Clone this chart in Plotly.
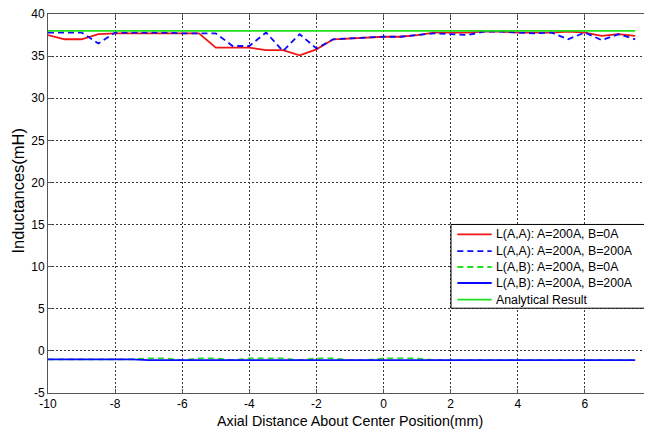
import plotly.graph_objects as go

x = [-10, -9.5, -9, -8.5, -8, -7.5, -7, -6.5, -6, -5.5, -5, -4.5, -4, -3.5, -3, -2.5, -2, -1.5,
     -1, -0.5, 0, 0.5, 1, 1.5, 2, 2.5, 3, 3.5, 4, 4.5, 5, 5.5, 6, 6.5, 7, 7.5]

laa_b0 = [37.5, 37.0, 37.0, 37.6, 37.7, 37.7, 37.7, 37.7, 37.7, 37.7, 36.0, 36.0, 36.0, 35.7, 35.7, 35.1, 35.8, 37.0,
          37.1, 37.2, 37.3, 37.3, 37.5, 37.8, 37.8, 37.8, 37.9, 37.9, 37.8, 37.8, 37.8, 37.9, 37.8, 37.4, 37.6, 37.4]
laa_b200 = [37.8, 37.8, 37.8, 36.5, 37.8, 37.8, 37.8, 37.8, 37.7, 37.7, 37.7, 36.2, 36.2, 37.8, 35.6, 37.6, 35.9, 37.0,
            37.1, 37.2, 37.3, 37.3, 37.5, 37.7, 37.6, 37.5, 37.9, 37.9, 37.8, 37.7, 37.8, 37.0, 37.8, 36.9, 37.6, 37.0]
lab_b0 = [-1.0, -1.0, -1.0, -1.0, -1.0, -1.0, -0.9, -0.9, -1.1, -0.9, -0.9, -1.1, -0.9, -0.9, -0.9, -1.1, -0.9, -0.9,
          -1.1, -1.1, -0.9, -0.9, -0.9, -1.1, -1.1, -1.1, -1.1, -1.1, -1.1, -1.1, -1.1, -1.1, -1.1, -1.1, -1.1, -1.1]
lab_b200 = [-1.0, -1.0, -1.0, -1.0, -1.0, -1.0, -1.1, -1.1, -1.1, -1.1, -1.1, -1.1, -1.1, -1.1, -1.1, -1.1, -1.1, -1.1,
            -1.1, -1.1, -1.1, -1.1, -1.1, -1.1, -1.1, -1.1, -1.1, -1.1, -1.1, -1.1, -1.1, -1.1, -1.1, -1.1, -1.1, -1.1]
analytical = [38.0] * len(x)

series_names = ["L(A,A): A=200A, B=0A", "L(A,A): A=200A, B=200A", "L(A,B): A=200A, B=0A",
                "L(A,B): A=200A, B=200A", "Analytical Result"]
series_values = [laa_b0, laa_b200, lab_b0, lab_b200, analytical]

xticks = [-10, -8, -6, -4, -2, 0, 2, 4, 6, 8]
yticks = [-5, 0, 5, 10, 15, 20, 25, 30, 35, 40]

RED = "#f01414"
BLUE = "#0a0aff"
GREEN = "#1ee01e"
DASH = "6px,4px"
styles = [
    dict(color=RED, width=1.8, dash="solid"),
    dict(color=BLUE, width=1.8, dash=DASH),
    dict(color=GREEN, width=1.8, dash=DASH),
    dict(color=BLUE, width=1.8, dash="solid"),
    dict(color=GREEN, width=1.8, dash="solid"),
]

fig = go.Figure()
for name, vals, st in zip(series_names, series_values, styles):
    fig.add_trace(go.Scatter(x=x, y=vals, mode="lines", name=name, line=st, showlegend=False))

axis_common = dict(
    showgrid=True, gridcolor="#3a3a3a", griddash="2px,2px", gridwidth=1,
    showline=True, linecolor="#555555", linewidth=1, mirror="ticks",
    ticks="inside", ticklen=4, tickcolor="#555555",
    zeroline=False, tickfont=dict(size=12, color="#000000"),
    automargin=False, ticklabeloverflow="allow",
)

# Legend drawn in MATLAB style (compact rows)
leg_left, leg_right, leg_top, leg_bottom = 0.6672, 1.02, 0.4447, 0.2237
row_y = [0.4184, 0.3745, 0.3324, 0.2903, 0.2466]
line_x0, line_x1, text_x = 0.6777, 0.7346, 0.7376

shapes = [dict(type="rect", xref="paper", yref="paper", x0=leg_left, x1=leg_right, y0=leg_bottom, y1=leg_top,
               fillcolor="white", line=dict(color="#000000", width=1), layer="above")]
annotations = []
for name, st, yy in zip(series_names, styles, row_y):
    shapes.append(dict(type="line", xref="paper", yref="paper", x0=line_x0, x1=line_x1, y0=yy, y1=yy,
                       line=dict(color=st["color"], width=st["width"], dash=st["dash"]), layer="above"))
    annotations.append(dict(text=name, xref="paper", yref="paper", x=text_x, y=yy, xanchor="left",
                            yanchor="middle", showarrow=False, font=dict(size=12.3, color="#000000")))

annotations.append(dict(text="Axial Distance About Center Position(mm)", xref="paper", yref="paper",
                        x=0.5, y=0, xanchor="center", yanchor="middle", yshift=-28, showarrow=False,
                        font=dict(size=14.3, color="#000000")))
annotations.append(dict(text="Inductances(mH)", xref="paper", yref="paper", x=0, y=0.534,
                        xanchor="center", yanchor="middle", xshift=-30, textangle=-90, showarrow=False,
                        font=dict(size=16.5, color="#000000")))

# The page body adds an 8px margin, so the figure is sized to fill the rest of the window.
fig.update_layout(
    width=644, height=424,
    margin=dict(l=40, r=0, t=6, b=39),
    paper_bgcolor="white", plot_bgcolor="white",
    font=dict(family="Liberation Sans, Arial, sans-serif", color="#000000"),
    xaxis=dict(range=[-10, 8], tickvals=xticks, ticktext=[str(v) for v in xticks], **axis_common),
    yaxis=dict(range=[-5, 40], tickvals=yticks, ticktext=[str(v) for v in yticks], **axis_common),
    shapes=shapes,
    annotations=annotations,
    showlegend=False,
)

fig.write_html("out.html")
